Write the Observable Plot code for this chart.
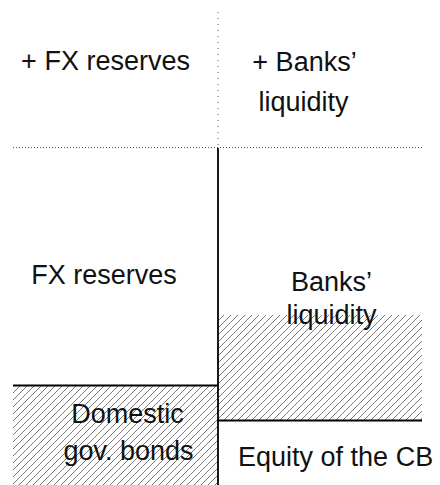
<!DOCTYPE html>
<html>
<head>
<meta charset="utf-8">
<script src="https://cdn.jsdelivr.net/npm/d3@7"></script>
<script src="https://cdn.jsdelivr.net/npm/@observablehq/plot@0.6"></script>
<style>
  html, body { margin: 0; padding: 0; background: #fff; }
  #chart svg { display: block; }
</style>
</head>
<body>
<div id="chart"></div>
<script>
// Central bank balance sheet (stylised units)
const columns = ["Assets", "Liabilities"];
const assetItems = ["Domestic gov. bonds", "FX reserves", "+ FX reserves"];
const assetValues = [100, 238, 135];
const liabilityItems = ["Equity of the CB", "Banks' liquidity", "+ Banks' liquidity"];
const liabilityValues = [65, 273, 135];
const hatchedLiquidity = 105;   // hatched part of banks' liquidity

// label lines and their anchors (column units, balance-sheet units)
const labelText = ["+ FX reserves", "+ Banks’", "liquidity", "FX reserves", "Banks’", "liquidity", "Domestic", "gov. bonds", "Equity of the CB"];
const labelX = [0.45, 1.423, 1.418, 0.443, 1.555, 1.555, 0.557, 0.562, 1.575];
const labelY = [424, 423, 383, 210, 203, 170, 71, 34, 28];

function stack(values) {
  let c = 0;
  return values.map(v => { const s = c; c += v; return [s, c]; });
}
const A = stack(assetValues);
const L = stack(liabilityValues);
const core = A[1][1];          // top of the initial balance sheet
const total = A[2][1];         // top after the increase

const hatched = [
  {x1: 0, x2: 1, y1: A[0][0], y2: A[0][1]},
  {x1: 1, x2: 2, y1: L[1][0], y2: L[1][0] + hatchedLiquidity}
];
const solidH = [
  {x1: 0, x2: 1, y: A[0][1]},
  {x1: 1, x2: 2, y: L[0][1]}
];
const labels = labelText.map((t, i) => ({t, x: labelX[i], y: labelY[i]}));

const chart = Plot.plot({
  width: 440,
  height: 485,
  marginLeft: 13,
  marginRight: 18,
  marginTop: 12,
  marginBottom: 0,
  x: {domain: [0, columns.length], axis: null},
  y: {domain: [0, total], axis: null},
  style: {fontFamily: "'Liberation Sans', Arial, sans-serif", background: "#fff"},
  marks: [
    Plot.rect(hatched, {x1: "x1", x2: "x2", y1: "y1", y2: "y2", fill: "url(#hatch)"}),
    // dotted extension
    Plot.ruleY([core], {x1: 0, x2: 2, stroke: "#555", strokeWidth: 1, strokeDasharray: "1,2"}),
    Plot.ruleX([1], {y1: core + 2, y2: total, stroke: "#555", strokeWidth: 1, strokeDasharray: "1,5"}),
    // solid T-account lines
    Plot.ruleX([1], {y1: 0, y2: core - 1, stroke: "#000", strokeWidth: 1.8}),
    Plot.ruleY(solidH, {y: "y", x1: "x1", x2: "x2", stroke: "#000", strokeWidth: 1.8}),
    Plot.text(labels, {x: "x", y: "y", text: "t", fontSize: 27, fill: "#111", textAnchor: "middle", lineAnchor: "middle"})
  ]
});

// hatch pattern definition
const ns = "http://www.w3.org/2000/svg";
const defs = document.createElementNS(ns, "defs");
const pat = document.createElementNS(ns, "pattern");
pat.setAttribute("id", "hatch");
pat.setAttribute("patternUnits", "userSpaceOnUse");
pat.setAttribute("width", "7");
pat.setAttribute("height", "7");
const p = document.createElementNS(ns, "path");
p.setAttribute("d", "M-1,1 l2,-2 M0,7 l7,-7 M6,8 l2,-2");
p.setAttribute("stroke", "#555");
p.setAttribute("stroke-width", "0.8");
p.setAttribute("fill", "none");
pat.appendChild(p);
defs.appendChild(pat);
chart.insertBefore(defs, chart.firstChild);

document.getElementById("chart").appendChild(chart);
</script>
</body>
</html>
